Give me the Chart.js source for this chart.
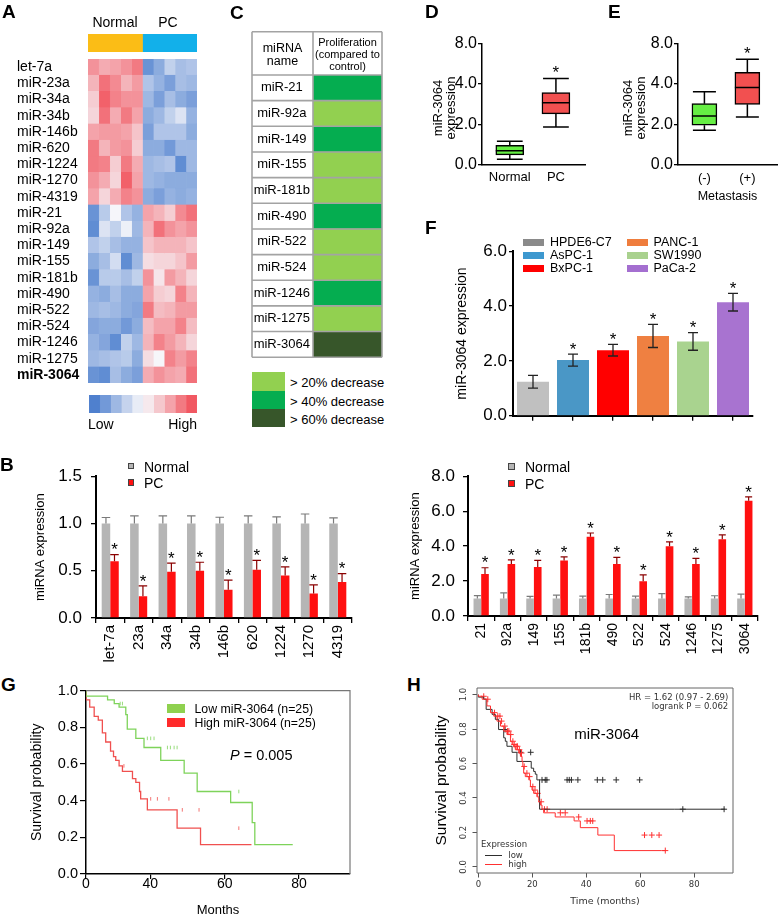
<!DOCTYPE html>
<html><head><meta charset="utf-8">
<script src="https://cdn.jsdelivr.net/npm/chart.js@4.4.1/dist/chart.umd.min.js"></script>
<style>
html,body{margin:0;padding:0;background:#fff;overflow:hidden}
#fig{position:relative;width:778px;height:914px;font-family:"Liberation Sans",Arial,sans-serif;color:#000;overflow:hidden}
.t{position:absolute;white-space:nowrap;line-height:1}
canvas{position:absolute}
.sw{position:absolute;box-sizing:border-box}
</style></head><body><div id="fig"></div>
<script>
// ================= DATA =================
// Panel A - heatmap
const HEAT_ROWS = ['let-7a','miR-23a','miR-34a','miR-34b','miR-146b','miR-620','miR-1224','miR-1270','miR-4319','miR-21','miR-92a','miR-149','miR-155','miR-181b','miR-490','miR-522','miR-524','miR-1246','miR-1275','miR-3064'];
const HEAT_SAMPLES = ['N1','N2','N3','N4','N5','PC1','PC2','PC3','PC4','PC5'];
const HEAT_GROUPS = ['Normal','PC'];
const HEAT_GROUP_SIZES = [5,5];
const HEAT_VALUES = [
 [0.60,0.45,0.50,0.60,0.75,-0.80,-0.60,-0.30,-0.45,-0.40],
 [0.40,0.80,0.65,0.40,0.55,-0.40,-0.55,-0.70,-0.45,-0.50],
 [0.25,0.90,0.70,0.60,0.60,-0.50,-0.70,-0.45,-0.60,-0.70],
 [0.20,0.80,0.45,0.75,0.50,-0.60,-0.50,-0.30,-0.15,-0.55],
 [0.50,0.55,0.55,0.50,0.30,-0.70,-0.40,-0.40,-0.40,-0.60],
 [0.75,0.40,0.55,0.60,0.25,-0.60,-0.60,-0.75,-0.50,-0.50],
 [0.75,0.70,0.25,0.75,0.45,-0.50,-0.45,-0.40,-0.85,-0.50],
 [0.60,0.45,0.20,0.90,0.50,-0.50,-0.55,-0.60,-0.60,-0.60],
 [0.50,0.20,0.45,0.70,0.60,-0.60,-0.70,-0.55,-0.60,-0.55],
 [-0.80,-0.35,0.00,-0.40,-0.55,0.50,0.40,0.25,0.65,0.80],
 [-0.85,-0.15,-0.30,-0.05,-0.50,0.40,0.80,0.60,0.50,0.60],
 [-0.40,-0.30,-0.45,-0.55,-0.55,0.30,0.40,0.40,0.40,0.30],
 [-0.60,-0.45,-0.20,-0.85,-0.50,0.15,0.20,0.20,0.30,0.55],
 [-0.80,-0.35,-0.35,-0.45,-0.30,0.60,0.10,0.55,0.40,0.20],
 [-0.55,-0.60,-0.45,-0.60,-0.60,0.50,0.25,0.20,0.70,0.40],
 [-0.50,-0.45,-0.50,-0.60,-0.65,0.75,0.35,0.40,0.55,0.55],
 [-0.65,-0.60,-0.60,-0.75,-0.60,0.35,0.50,0.50,0.70,0.35],
 [-0.55,-0.65,-0.85,-0.30,-0.50,0.40,0.70,0.55,0.40,0.20],
 [-0.50,-0.45,-0.40,-0.35,-0.60,0.15,0.00,0.70,0.55,0.70],
 [-0.80,-0.85,-0.45,-0.60,-0.70,0.45,0.60,0.50,0.45,0.80]
];
const HEAT_KEY = [-0.95,-0.75,-0.5,-0.28,-0.08,0.08,0.28,0.5,0.75,0.95];

// Panel C - proliferation table
const C_MIRNAS = ['miR-21','miR-92a','miR-149','miR-155','miR-181b','miR-490','miR-522','miR-524','miR-1246','miR-1275','miR-3064'];
const C_LEVELS = [1,0,1,0,0,1,0,0,1,0,2]; // 0: >20%, 1: >40%, 2: >60% decrease
const C_LEGEND = ['> 20% decrease','> 40% decrease','> 60% decrease'];

// Panel D - box plot
const D_GROUPS = ['Normal','PC'];
const D_MIN = [0.28,1.88], D_Q1 = [0.50,2.53], D_MED = [0.70,3.08], D_Q3 = [0.97,3.58], D_MAX = [1.17,4.28];
const D_STAR = [false,true];
const DE_Y_TICKS = [0,2,4,6];
const DE_Y_LABELS = ['0.0','2.0','4.0','8.0'];

// Panel E - box plot
const E_GROUPS = ['(-)','(+)'];
const E_MIN = [1.72,2.37], E_Q1 = [1.97,3.00], E_MED = [2.42,3.83], E_Q3 = [3.03,4.58], E_MAX = [3.62,5.23];
const E_STAR = [false,true];

// Panel F - cell lines
const F_LINES = ['HPDE6-C7','AsPC-1','BxPC-1','PANC-1','SW1990','PaCa-2'];
const F_MEAN = [1.24,2.03,2.39,2.91,2.71,4.14];
const F_SD = [0.23,0.22,0.21,0.42,0.32,0.32];
const F_STAR = [false,true,true,true,true,true];
const F_Y_TICKS = [0,2,4,6];

// Panel B - left
const B1_LABELS = ['let-7a','23a','34a','34b','146b','620','1224','1270','4319'];
const B1_NORMAL = [1,1,1,1,1,1,1,1,1];
const B1_NORMAL_ERR = [0.063,0.08,0.08,0.08,0.066,0.08,0.07,0.10,0.06];
const B1_PC = [0.60,0.23,0.49,0.50,0.30,0.51,0.45,0.26,0.38];
const B1_PC_ERR = [0.07,0.11,0.09,0.09,0.10,0.10,0.09,0.09,0.09];
const B1_Y_TICKS = [0,0.5,1,1.5];

// Panel B - right
const B2_LABELS = ['21','92a','149','155','181b','490','522','524','1246','1275','3064'];
const B2_NORMAL = [1,1,1,1,1,1,1,1,1,1,1];
const B2_NORMAL_ERR = [0.17,0.32,0.12,0.19,0.14,0.23,0.14,0.28,0.10,0.16,0.25];
const B2_PC = [2.40,2.98,2.80,3.18,4.53,2.98,1.99,3.99,2.98,4.39,6.59];
const B2_PC_ERR = [0.36,0.23,0.38,0.20,0.22,0.38,0.36,0.25,0.32,0.25,0.23];
const B2_Y_TICKS = [0,2,4,6,8];

// Panel G - Kaplan-Meier (cohort)
const G_LOW_T = [22.7,28.5,30.3,31.6,33.4,33.8,36.1,38.3,42.8,49.1,52.6,61.6,67.4,68.1,78.3];
const G_LOW_S = [1.00,0.97,0.95,0.93,0.91,0.87,0.79,0.74,0.69,0.62,0.55,0.45,0.39,0.28,0.16];
const G_LOW_CENS = [31.9,32.5,39.2,40.1,41.0,44.6,45.4,46.4,47.2,63.8];
const G_HIGH_T = [22.7,23.7,24.9,26.0,27.1,28.0,29.3,30.1,30.7,31.6,32.5,35.2,36.1,37.1,37.4,39.2,47.2,53.5,67.2];
const G_HIGH_S = [1.00,0.95,0.91,0.86,0.84,0.77,0.72,0.67,0.64,0.62,0.59,0.56,0.52,0.50,0.45,0.41,0.35,0.25,0.16];
const G_HIGH_CENS = [32.9,40.1,41.9,45.0,48.6,53.1,63.8];
const G_X_TICKS = [22.7,40,60,80];
const G_X_LABELS = ['0','40','60','80'];
const G_Y_TICKS = [0,0.2,0.4,0.6,0.8,1.0];

// Panel H - Kaplan-Meier (KM plotter)
const H_LOW_T = [0,2.0,2.9,5.1,6.3,7.5,9.4,10.0,10.6,12.5,14.3,19.6,20.5,21.1,21.7,22.7,72.6,91.5];
const H_LOW_S = [1.0,0.985,0.973,0.914,0.885,0.856,0.797,0.749,0.729,0.700,0.665,0.612,0.573,0.554,0.538,0.505,0.335,0.335];
const H_LOW_CENS = [9.9,15.6,19.4,23.6,24.8,25.4,32.9,33.7,34.5,36.9,44.1,46.1,51.1,59.8,75.8,91.1];
const H_HIGH_T = [0,1.4,3.2,4.5,5.7,6.9,8.2,9.4,10.6,11.9,12.5,13.1,13.7,15.0,15.6,16.2,16.5,16.8,17.4,18.7,19.3,19.9,20.5,21.7,22.4,23.0,23.6,24.2,28.5,35.5,37.8,44.3,50.4,67.8,69.3];
const H_HIGH_S = [1.0,0.99,0.973,0.934,0.895,0.875,0.846,0.817,0.788,0.768,0.729,0.710,0.700,0.680,0.661,0.641,0.612,0.583,0.544,0.524,0.505,0.466,0.446,0.427,0.407,0.378,0.359,0.335,0.314,0.290,0.267,0.228,0.185,0.095,0.095];
const H_HIGH_CENS = [2,3.5,6,7.2,8,8.6,9.8,10.8,11.3,12,12.8,13.3,14,14.5,15.2,16,17,18,19,20.2,21,22,23.3,24.5,25.5,30.4,32.2,37.2,40.3,41.5,42.4,61.6,64.3,67.0,69.3];
const H_X_TICKS = [0,20,40,60,80];
const H_Y_TICKS = [0,0.2,0.4,0.6,0.8,1.0];

// ================= HELPERS =================
const FONT = '"Liberation Sans", Arial, sans-serif';
const DV = '"DejaVu Sans", sans-serif';
Chart.defaults.font.family = FONT;
Chart.defaults.color = '#000';
const fig = document.getElementById('fig');

function T(html, x, y, o = {}) {
  const d = document.createElement('div'); d.className = 't';
  d.innerHTML = html;
  const a = o.a || 'l';
  const tx = a === 'c' ? '-50%' : a === 'r' ? '-100%' : '0';
  d.style.cssText = `left:${x}px;top:${y}px;font-size:${o.fs || 14}px;transform:translate(${tx},-50%)${o.rot ? ' rotate(-90deg)' : ''};` + (o.css || '');
  fig.appendChild(d);
}
function SW(x, y, w, h, bg, css = '') {
  const d = document.createElement('div'); d.className = 'sw';
  d.style.cssText = `left:${x}px;top:${y}px;width:${w}px;height:${h}px;background:${bg};` + css;
  fig.appendChild(d);
}
function place(L, T_, R, B, yw, xh, p) {
  const x = L - yw - p.l, y = T_ - p.t;
  return { x, y, w: R + p.r - x, h: B + xh + p.b - y, yw, xh, p };
}
function mk(rect, config) {
  const c = document.createElement('canvas');
  c.width = rect.w; c.height = rect.h;
  c.style.left = rect.x + 'px'; c.style.top = rect.y + 'px';
  c.style.width = rect.w + 'px'; c.style.height = rect.h + 'px';
  fig.appendChild(c);
  config.options = config.options || {};
  Object.assign(config.options, { responsive: false, animation: false, events: [] });
  config.options.layout = { padding: rect.p ? { left: rect.p.l, top: rect.p.t, right: rect.p.r, bottom: rect.p.b } : 0 };
  config.options.plugins = Object.assign({ legend: { display: false }, tooltip: { enabled: false } }, config.options.plugins || {});
  return new Chart(c, config);
}
function heatColor(v) {
  const W = [246, 246, 250], Bl = [70, 122, 204], Rd = [241, 80, 90];
  const t = Math.min(1, Math.abs(v)); const E = v < 0 ? Bl : Rd;
  return 'rgb(' + W.map((w, k) => Math.round(w + (E[k] - w) * t)).join(',') + ')';
}
function survAt(Ts, Ss, t) { let s = Ss[0]; for (let i = 0; i < Ts.length; i++) if (Ts[i] <= t) s = Ss[i]; return s; }
function drawStar(ctx, x, cy, size) {
  ctx.save(); ctx.fillStyle = '#000'; ctx.font = `${size}px ${FONT}`;
  ctx.textAlign = 'center'; ctx.textBaseline = 'alphabetic';
  ctx.fillText('*', x, cy + 0.57 * size); ctx.restore();
}
function yLin(o) {
  return {
    type: 'linear', min: o.min, max: o.max,
    afterBuildTicks: ax => { ax.ticks = o.ticks.map(v => ({ value: v })); },
    afterFit: ax => { ax.width = o.yw; },
    ticks: Object.assign({ font: { size: o.fs }, color: o.color || '#000', padding: o.pad, autoSkip: false, callback: o.cb }, o.tickExtra || {}),
    grid: { drawOnChartArea: false, drawTicks: true, tickLength: o.tl, color: o.gridColor || '#000', lineWidth: o.lw || 1.3 },
    border: { display: o.border !== false, color: '#000', width: o.bw || 1.5 },
    title: o.title ? { display: true, text: o.title, font: o.titleFont, color: o.titleColor || '#000', padding: { top: o.tpt, bottom: 0 } } : { display: false }
  };
}

// error bars + asterisks
const errPlugin = {
  id: 'err',
  afterDatasetsDraw(chart) {
    const { ctx, scales: { y } } = chart;
    chart.data.datasets.forEach((ds, i) => {
      if (!ds.errUp) return;
      const meta = chart.getDatasetMeta(i);
      ctx.save(); ctx.strokeStyle = ds.errColor; ctx.lineWidth = ds.errWidth || 1.2;
      meta.data.forEach((el, j) => {
        const v = ds.data[j], x = el.x, cw = ds.capW / 2;
        const yv = y.getPixelForValue(v), yt = y.getPixelForValue(v + ds.errUp[j]);
        ctx.beginPath();
        ctx.moveTo(x, yv); ctx.lineTo(x, yt); ctx.moveTo(x - cw, yt); ctx.lineTo(x + cw, yt);
        if (ds.errDown) {
          const yb = y.getPixelForValue(v - ds.errDown[j]);
          ctx.moveTo(x, yv); ctx.lineTo(x, yb); ctx.moveTo(x - cw, yb); ctx.lineTo(x + cw, yb);
        }
        ctx.stroke();
        if (ds.stars && ds.stars[j]) drawStar(ctx, x, yt - ds.starGap, ds.starSize);
      });
      ctx.restore();
    });
  }
};
// box plot whiskers / medians
const boxPlugin = {
  id: 'box',
  afterDatasetsDraw(chart) {
    const { ctx, scales: { y } } = chart;
    chart.data.datasets.forEach((ds, i) => {
      if (!ds.med) return;
      const meta = chart.getDatasetMeta(i);
      const p = v => y.getPixelForValue(v);
      ctx.save(); ctx.strokeStyle = '#000'; ctx.lineWidth = 1.5;
      meta.data.forEach((el, j) => {
        const x = el.x, hw = el.width / 2, cw = hw * 0.92;
        ctx.beginPath();
        ctx.moveTo(x - hw, p(ds.med[j])); ctx.lineTo(x + hw, p(ds.med[j]));
        ctx.moveTo(x, p(ds.q3[j])); ctx.lineTo(x, p(ds.wMax[j]));
        ctx.moveTo(x - cw, p(ds.wMax[j])); ctx.lineTo(x + cw, p(ds.wMax[j]));
        ctx.moveTo(x, p(ds.q1[j])); ctx.lineTo(x, p(ds.wMin[j]));
        ctx.moveTo(x - cw, p(ds.wMin[j])); ctx.lineTo(x + cw, p(ds.wMin[j]));
        ctx.stroke();
        if (ds.stars && ds.stars[j]) drawStar(ctx, x, p(ds.wMax[j]) - 10, 17);
      });
      ctx.restore();
    });
  }
};
const framePlugin = {
  id: 'frame',
  afterDraw(chart, args, opts) {
    const a = chart.chartArea, ctx = chart.ctx;
    ctx.save(); ctx.strokeStyle = opts.color; ctx.lineWidth = opts.width;
    ctx.beginPath();
    if (opts.full) { ctx.rect(a.left, a.top, a.right - a.left, a.bottom - a.top); }
    else { ctx.moveTo(a.left, a.top); ctx.lineTo(a.right, a.top); ctx.lineTo(a.right, a.bottom); }
    ctx.stroke(); ctx.restore();
  }
};
const tablePlugin = {
  id: 'table',
  afterDraw(chart, args, opts) {
    const a = chart.chartArea, ctx = chart.ctx, ys = chart.scales.y;
    const L = ys.left, n = chart.data.labels.length, rh = (a.bottom - a.top) / n, top = a.top - opts.header;
    ctx.save(); ctx.strokeStyle = opts.color; ctx.lineWidth = opts.width;
    ctx.beginPath();
    for (let k = 0; k <= n; k++) { const yy = a.top + k * rh; ctx.moveTo(L, yy); ctx.lineTo(a.right, yy); }
    ctx.moveTo(L, top); ctx.lineTo(a.right, top);
    [L, a.left, a.right].forEach(xx => { ctx.moveTo(xx, top); ctx.lineTo(xx, a.bottom); });
    ctx.stroke(); ctx.restore();
  }
};

// ================= PANEL A =================
mk({ x: 88, y: 34, w: 109, h: 18 }, {
  type: 'bar',
  data: { labels: ['group'], datasets: HEAT_GROUPS.map((g, k) => ({ label: g, data: [HEAT_GROUP_SIZES[k]], backgroundColor: ['#fbbd16', '#12b0ea'][k], borderWidth: 0, barPercentage: 1, categoryPercentage: 1 })) },
  options: { indexAxis: 'y', scales: { x: { stacked: true, display: false, min: 0, max: HEAT_SAMPLES.length }, y: { stacked: true, display: false } } }
});
const heatRect = place(88, 59, 197, 383, 71, 0, { l: 0, t: 10, r: 2, b: 10 });
mk(heatRect, {
  type: 'bar',
  data: {
    labels: HEAT_ROWS,
    datasets: HEAT_SAMPLES.map((s, j) => ({
      label: s, data: HEAT_ROWS.map(() => 1),
      backgroundColor: HEAT_ROWS.map((r, i) => heatColor(HEAT_VALUES[i][j])),
      borderColor: HEAT_ROWS.map((r, i) => heatColor(HEAT_VALUES[i][j])),
      borderWidth: 0.4, borderSkipped: false, barPercentage: 1, categoryPercentage: 1
    }))
  },
  options: {
    indexAxis: 'y',
    scales: {
      x: { stacked: true, display: false, min: 0, max: HEAT_SAMPLES.length },
      y: {
        stacked: true, afterFit: ax => { ax.width = heatRect.yw; },
        ticks: { autoSkip: false, crossAlign: 'far', padding: 0, color: '#000', font: ctx => ({ size: 14, weight: ctx.index === HEAT_ROWS.length - 1 ? 'bold' : 'normal' }) },
        grid: { display: false, drawTicks: false }, border: { display: false }
      }
    }
  }
});
mk({ x: 89, y: 395, w: 108, h: 18 }, {
  type: 'bar',
  data: { labels: ['key'], datasets: HEAT_KEY.map(v => ({ data: [1], backgroundColor: heatColor(v), borderColor: heatColor(v), borderWidth: 0.4, borderSkipped: false, barPercentage: 1, categoryPercentage: 1 })) },
  options: { indexAxis: 'y', scales: { x: { stacked: true, display: false, min: 0, max: HEAT_KEY.length }, y: { stacked: true, display: false } } }
});
T('Normal', 115, 22, { a: 'c', fs: 14 });
T('PC', 168, 22, { a: 'c', fs: 14 });
T('Low', 88, 424, { a: 'l', fs: 14 });
T('High', 197, 424, { a: 'r', fs: 14 });

// ================= PANEL C =================
const C_COLORS = ['#92d050', '#05ad50', '#37562a'];
const cRect = place(313, 75, 382, 358, 61, 0, { l: 1, t: 46, r: 2, b: 10 });
mk(cRect, {
  type: 'bar',
  data: { labels: C_MIRNAS, datasets: [{ data: C_MIRNAS.map(() => 1), backgroundColor: C_LEVELS.map(l => C_COLORS[l]), borderWidth: 0, barPercentage: 1, categoryPercentage: 1 }] },
  options: {
    indexAxis: 'y',
    scales: {
      x: { display: false, min: 0, max: 1 },
      y: {
        afterFit: ax => { ax.width = cRect.yw; },
        ticks: { autoSkip: false, crossAlign: 'center', padding: 3, color: '#000', font: { size: 13 } },
        grid: { display: false, drawTicks: false }, border: { display: false }
      }
    },
    plugins: { table: { header: 43.3, color: '#a3a3a3', width: 1.6 } }
  },
  plugins: [tablePlugin]
});
T('miRNA<br>name', 282.5, 54.5, { a: 'c', fs: 12.5, css: 'text-align:center;line-height:13.5px' });
T('Proliferation<br>(compared to<br>control)', 347.5, 53.7, { a: 'c', fs: 11, css: 'text-align:center;line-height:12px' });
SW(252, 372.3, 33, 18.3, C_COLORS[0]);
SW(252, 390.6, 33, 18.4, C_COLORS[1]);
SW(252, 409, 33, 18.3, C_COLORS[2]);
C_LEGEND.forEach((s, k) => T(s, 290, [381.5, 401, 419.3][k], { fs: 13 }));

// ================= PANEL D / E =================
function boxChart(rect, groups, mn, q1, md, q3, mx, stars, xmin, xmax, thick, opts) {
  return mk(rect, {
    type: 'bar',
    data: {
      datasets: [{
        data: groups.map((g, i) => ({ x: i, y: [q1[i], q3[i]] })),
        backgroundColor: ['#66ee44', '#f25050'], borderColor: '#000', borderWidth: 1.5, borderSkipped: false,
        barThickness: thick, wMin: mn, q1: q1, med: md, q3: q3, wMax: mx, stars: stars
      }]
    },
    options: {
      scales: {
        x: {
          type: 'linear', min: xmin, max: xmax, offset: false,
          afterBuildTicks: ax => { ax.ticks = groups.map((g, i) => ({ value: i })); },
          afterFit: ax => { ax.height = rect.xh; },
          ticks: { font: { size: 13 }, color: '#000', padding: opts.xpad, autoSkip: false, callback: (v, i) => groups[i] },
          grid: { display: false, drawTicks: false, offset: false }, border: { display: true, color: '#000', width: 1.5 },
          title: opts.xtitle ? { display: true, text: opts.xtitle, font: { size: 12.5 }, color: '#000', padding: { top: 0, bottom: 0.8 } } : { display: false }
        },
        y: yLin({ min: 0, max: 6, ticks: DE_Y_TICKS, yw: rect.yw, fs: 16, pad: 1, tl: 4, cb: (v, i) => DE_Y_LABELS[i] })
      }
    },
    plugins: [boxPlugin]
  });
}
boxChart(place(482, 43, 585, 165, 52, 28, { l: 0, t: 10, r: 8, b: 0 }), D_GROUPS, D_MIN, D_Q1, D_MED, D_Q3, D_MAX, D_STAR, -0.602, 1.63, 28, { xpad: 4.2 });
boxChart(place(678, 43, 777, 165, 62, 40, { l: 0, t: 10, r: 1, b: 0 }), E_GROUPS, E_MIN, E_Q1, E_MED, E_Q3, E_MAX, E_STAR, -0.615, 1.69, 25, { xpad: 5.5, xtitle: 'Metastasis' });
T('miR-3064<br>expression', 444.6, 108, { a: 'c', fs: 13, rot: true, css: 'text-align:center;line-height:12.8px' });
T('miR-3064<br>expression', 634.5, 108, { a: 'c', fs: 13, rot: true, css: 'text-align:center;line-height:12.8px' });

// ================= PANEL F =================
const F_COLORS = ['#c0c0c0', '#4a97c6', '#ff0000', '#ef8041', '#a9d38f', '#a873d0'];
const F_LEG_COLORS = ['#8a8a8a', '#3d98cf', '#ff0000', '#ef7d3d', '#a9d18e', '#a46fd0'];
const fRect = place(513, 249, 753, 418, 63, 8, { l: 0, t: 10, r: 10, b: 2 });
mk(fRect, {
  type: 'bar',
  data: { labels: F_LINES, datasets: [{ data: F_MEAN, backgroundColor: F_COLORS, borderWidth: 0, barPercentage: 0.8, categoryPercentage: 1, errUp: F_SD, errDown: F_SD, errColor: '#222', errWidth: 1.3, capW: 10, stars: F_STAR, starGap: 9, starSize: 17 }] },
  options: {
    scales: {
      x: {
        offset: true, afterFit: ax => { ax.height = fRect.xh; },
        ticks: { display: false },
        grid: { offset: false, drawOnChartArea: false, drawTicks: true, tickLength: 5, color: '#000', lineWidth: 1.3 },
        border: { display: true, color: '#000', width: 2 }
      },
      y: yLin({ min: 0, max: 6, ticks: F_Y_TICKS, yw: fRect.yw, fs: 17, pad: 2, tl: 4, bw: 2, cb: v => v.toFixed(1), title: 'miR-3064 expression', titleFont: { size: 14 }, tpt: 3.3 })
    }
  },
  plugins: [errPlugin]
});
const fLegX = [[523.3, 550], [627, 653.5]], fLegY = [238.5, 251.5, 264.8];
F_LINES.forEach((name, i) => {
  const col = Math.floor(i / 3), row = i % 3;
  SW(fLegX[col][0], fLegY[row], 21, 7, F_LEG_COLORS[i]);
  T(name, fLegX[col][1], fLegY[row] + 3.3, { fs: 12.5 });
});

// ================= PANEL B =================
function groupedBars(rect, labels, nv, ne, pv, pe, yticks, ymax, o) {
  return mk(rect, {
    type: 'bar',
    data: {
      labels,
      datasets: [
        { label: 'Normal', data: nv, backgroundColor: '#b5b5b5', borderWidth: 0, categoryPercentage: o.cp, barPercentage: 1, errUp: ne, errColor: '#7a7a7a', errWidth: 1.2, capW: o.cap },
        { label: 'PC', data: pv, backgroundColor: '#ff1010', borderWidth: 0, categoryPercentage: o.cp, barPercentage: 1, errUp: pe, errColor: '#8a0000', errWidth: 1.2, capW: o.cap, stars: pv.map(() => true), starGap: 9, starSize: 17 }
      ]
    },
    options: {
      scales: {
        x: {
          offset: true, afterFit: ax => { ax.height = rect.xh; },
          ticks: { font: { size: o.xfs }, color: '#000', minRotation: 90, maxRotation: 90, autoSkip: false, padding: 2 },
          grid: { offset: true, drawOnChartArea: false, drawTicks: true, tickLength: 5, color: '#000', lineWidth: 1.3 },
          border: { display: true, color: '#000', width: 2 }
        },
        y: yLin({ min: 0, max: ymax, ticks: yticks, yw: rect.yw, fs: 17, pad: o.ypad, tl: 5, bw: 2, cb: v => v.toFixed(1), title: 'miRNA expression', titleFont: { size: 13 }, tpt: o.tpt })
      }
    },
    plugins: [errPlugin]
  });
}
groupedBars(place(96, 467, 352, 618, 68, 50, { l: 0, t: 10, r: 10, b: 0 }), B1_LABELS, B1_NORMAL, B1_NORMAL_ERR, B1_PC, B1_PC_ERR, B1_Y_TICKS, 1.5, { cp: 0.6, cap: 8.5, xfs: 15, ypad: 9, tpt: 4.2 });
groupedBars(place(468, 468, 758, 616, 66, 50, { l: 0, t: 10, r: 10, b: 0 }), B2_LABELS, B2_NORMAL, B2_NORMAL_ERR, B2_PC, B2_PC_ERR, B2_Y_TICKS, 8, { cp: 0.58, cap: 7, xfs: 14, ypad: 8, tpt: 5.2 });
SW(127.7, 462.7, 6.5, 6.5, '#b5b5b5', 'border:1px solid #444');
SW(127.7, 479, 6.5, 6.5, '#ff1010', 'border:1px solid #444');
T('Normal', 144, 466.5, { fs: 14 });
T('PC', 144, 483, { fs: 14 });
SW(508.3, 463.3, 7, 7, '#b5b5b5', 'border:1px solid #444');
SW(508.3, 480, 7, 7, '#ff1010', 'border:1px solid #444');
T('Normal', 525, 467, { fs: 14 });
T('PC', 525, 483.5, { fs: 14 });

// ================= PANEL G =================
const gRect = place(86, 690, 350, 874, 64, 44, { l: 0, t: 10, r: 10, b: 0 });
const G_GREEN = '#7ed35a', G_RED = '#f0504f';
mk(gRect, {
  type: 'line',
  data: {
    datasets: [
      { data: G_LOW_T.map((t, i) => ({ x: t, y: G_LOW_S[i] })), borderColor: G_GREEN, borderWidth: 1.3, stepped: 'after', pointRadius: 0, fill: false },
      { data: G_HIGH_T.map((t, i) => ({ x: t, y: G_HIGH_S[i] })), borderColor: G_RED, borderWidth: 1.3, stepped: 'after', pointRadius: 0, fill: false },
      { type: 'scatter', showLine: false, data: G_LOW_CENS.map(t => ({ x: t, y: survAt(G_LOW_T, G_LOW_S, t) })), pointStyle: 'line', rotation: 90, radius: 1.8, borderColor: G_GREEN, borderWidth: 0.8 },
      { type: 'scatter', showLine: false, data: G_HIGH_CENS.map(t => ({ x: t, y: survAt(G_HIGH_T, G_HIGH_S, t) })), pointStyle: 'line', rotation: 90, radius: 1.8, borderColor: G_RED, borderWidth: 0.8 }
    ]
  },
  options: {
    scales: {
      x: {
        type: 'linear', min: 22.7, max: 93.7,
        afterBuildTicks: ax => { ax.ticks = G_X_TICKS.map(v => ({ value: v })); },
        afterFit: ax => { ax.height = gRect.xh; },
        ticks: { font: { size: 14 }, color: '#000', padding: -3, autoSkip: false, maxRotation: 0, callback: (v, i) => G_X_LABELS[i] },
        grid: { drawOnChartArea: false, drawTicks: true, tickLength: 5, color: '#000', lineWidth: 1.2 },
        border: { display: true, color: '#000', width: 1.5 },
        title: { display: true, text: 'Months', font: { size: 13 }, color: '#000', padding: { top: 0, bottom: 0.2 } }
      },
      y: yLin({ min: 0, max: 1, ticks: G_Y_TICKS, yw: gRect.yw, fs: 14.5, pad: 2, tl: 6, lw: 1.2, cb: v => v.toFixed(1), title: 'Survival probability', titleFont: { size: 14 }, tpt: 6.3 })
    },
    plugins: { frame: { color: '#777', width: 1.2, full: false } }
  },
  plugins: [framePlugin]
});
SW(166.7, 704, 18.3, 9.3, '#8fd14f');
SW(166.7, 717.7, 18.3, 9, '#ff2b2b');
T('Low miR-3064 (n=25)', 194.5, 709, { fs: 12.3 });
T('High miR-3064 (n=25)', 194.5, 722.5, { fs: 12.3 });
T('<i>P</i> = 0.005', 230, 754.5, { fs: 14.5 });

// ================= PANEL H =================
const hRect = place(477, 688, 733, 873, 52, 41, { l: 0, t: 8, r: 10, b: 0 });
const H_LOWC = '#2e2e2e', H_HIGHC = '#ff3030';
mk(hRect, {
  type: 'line',
  data: {
    datasets: [
      { data: H_HIGH_T.map((t, i) => ({ x: t, y: H_HIGH_S[i] })), borderColor: H_HIGHC, borderWidth: 1, stepped: 'after', pointRadius: 0, fill: false },
      { data: H_LOW_T.map((t, i) => ({ x: t, y: H_LOW_S[i] })), borderColor: H_LOWC, borderWidth: 1, stepped: 'after', pointRadius: 0, fill: false },
      { type: 'scatter', showLine: false, data: H_HIGH_CENS.map(t => ({ x: t, y: survAt(H_HIGH_T, H_HIGH_S, t) })), pointStyle: 'cross', radius: 3, borderColor: H_HIGHC, borderWidth: 1 },
      { type: 'scatter', showLine: false, data: H_LOW_CENS.map(t => ({ x: t, y: survAt(H_LOW_T, H_LOW_S, t) })), pointStyle: 'cross', radius: 3, borderColor: H_LOWC, borderWidth: 1 }
    ]
  },
  options: {
    scales: {
      x: {
        type: 'linear', min: -0.5, max: 94.4,
        afterBuildTicks: ax => { ax.ticks = H_X_TICKS.map(v => ({ value: v })); },
        afterFit: ax => { ax.height = hRect.xh; },
        ticks: { font: { size: 8.5, family: DV }, color: '#333', padding: 2.6, autoSkip: false, maxRotation: 0, callback: v => String(v) },
        grid: { drawOnChartArea: false, drawTicks: true, tickLength: 4.5, color: '#555', lineWidth: 1 },
        border: { display: false },
        title: { display: true, text: 'Time (months)', font: { size: 9.5, family: DV }, color: '#333', padding: { top: 0, bottom: 6.6 } }
      },
      y: yLin({ min: -0.035, max: 1.038, ticks: H_Y_TICKS, yw: hRect.yw, fs: 8.5, color: '#333', pad: 2.4, tl: 4.5, lw: 1, gridColor: '#555', border: false,
        tickExtra: { font: { size: 8.5, family: DV }, minRotation: 90, maxRotation: 90, crossAlign: 'center' },
        cb: v => v.toFixed(1), title: 'Survival probability', titleFont: { size: 15.5 }, tpt: 7.5 })
    },
    plugins: { frame: { color: '#666', width: 1, full: true } }
  },
  plugins: [framePlugin]
});
T('HR = 1.62 (0.97 - 2.69)', 728.3, 697.3, { a: 'r', fs: 8.5, css: `font-family:${DV};color:#333` });
T('logrank P = 0.062', 728.3, 706, { a: 'r', fs: 8.5, css: `font-family:${DV};color:#333` });
T('miR-3064', 606.7, 733.3, { a: 'c', fs: 15 });
T('Expression', 481, 844.3, { fs: 8.5, css: `font-family:${DV};color:#333` });
SW(485, 854.5, 17, 1, H_LOWC);
SW(485, 863.8, 17, 1, H_HIGHC);
T('low', 508.3, 855, { fs: 8.5, css: `font-family:${DV};color:#333` });
T('high', 508.3, 864.3, { fs: 8.5, css: `font-family:${DV};color:#333` });

// ================= PANEL LETTERS =================
[['A', 2, 11], ['C', 230, 12], ['D', 425, 11], ['E', 608, 11], ['F', 425, 227], ['B', 0, 464], ['G', 1, 684], ['H', 407, 684]]
  .forEach(([s, x, y]) => T(s, x, y, { fs: 19, css: 'font-weight:bold' }));
</script></body></html>
